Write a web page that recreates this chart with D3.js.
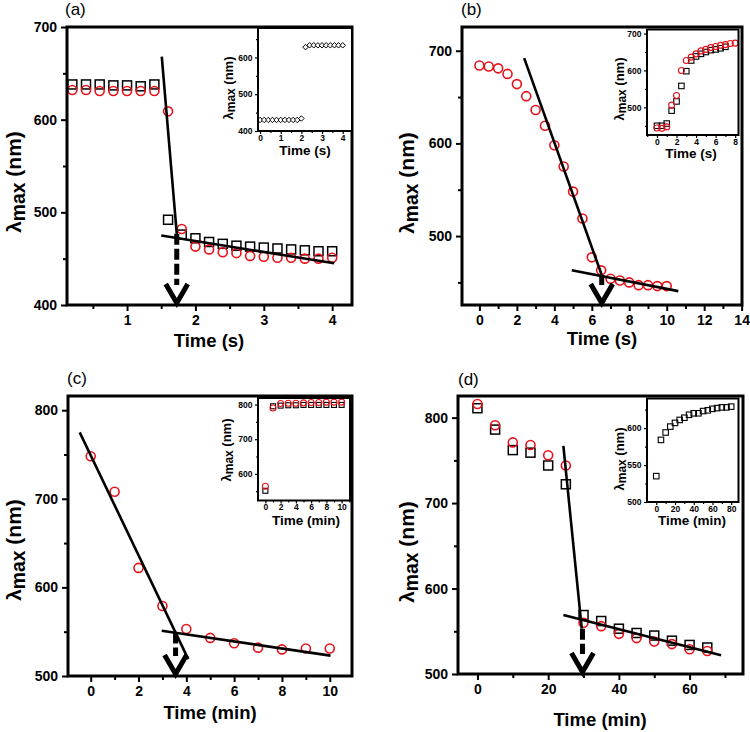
<!DOCTYPE html>
<html><head><meta charset="utf-8">
<script src="https://cdn.jsdelivr.net/npm/d3@7"></script>
<style>
body{margin:0;background:#fff}
svg{display:block}
text{font-family:"Liberation Sans",Arial,Helvetica,sans-serif}
</style>
</head><body>
<svg id="chart" width="750" height="732"></svg>
<script>
// ---------- Panel (a) ----------
const aTime = [0.2,0.4,0.6,0.8,1.0,1.2,1.4,1.6,1.8,2.0,2.2,2.4,2.6,2.8,3.0,3.2,3.4,3.6,3.8,4.0];
const aSquare = [638,638,638,637,637,636,638,492,476,472,468,466,464,463,462,461,460,459,458,458];
const aCircle = [632,632,631,631,631,631,631,609,482,463,460,457,456,453,452,451,451,450,450,451];
const aSteep = [[1.508,668],[1.727,477]];
const aShallow = [[1.50,475],[4.03,445]];
const aArrow = [1.727,477];
const aXTicks = [1,2,3,4];
const aYTicks = [400,500,600,700];
const aInsetTime = [0,0.2,0.4,0.6,0.8,1.0,1.2,1.4,1.6,1.8,2.0,2.2,2.4,2.6,2.8,3.0,3.2,3.4,3.6,3.8,4.0];
const aInsetDiamond = [430,430,430,430,430,430,430,430,430,430,434,628,633,633,633,633,633,633,633,633,633];
const aInsetXTicks = [0,1,2,3,4];
const aInsetYTicks = [400,500,600];

// ---------- Panel (b) ----------
const bTime = [0,0.5,1,1.5,2,2.5,3,3.5,4,4.5,5,5.5,6,6.5,7,7.5,8,8.5,9,9.5,10];
const bCircle = [684,683,681,675,664,651,636,619,598,575,548,519,477,463,454,452,450,447,447,446,446];
const bSteep = [[2.39,692],[6.53,458]];
const bShallow = [[4.93,463],[10.62,440.6]];
const bArrow = [6.53,458];
const bXTicks = [0,2,4,6,8,10,12,14];
const bYTicks = [500,600,700];
const bInsetCircleTime = [0,0.5,1,1.5,2,2.5,3,3.5,4,4.5,5,5.5,6,6.5,7,7.5,8];
const bInsetCircle = [444,443,447,506,532,600,627,636,645,653,657,662,665,668,670,673,674];
const bInsetSquareTime = [0,0.5,1,1.5,2,2.5,3,3.5,4,4.5,5,5.5,6,6.5,7];
const bInsetSquare = [450,450,456,491,516,558,598,627,638,645,650,655,657,660,664];
const bInsetXTicks = [0,2,4,6,8];
const bInsetYTicks = [500,600,700];

// ---------- Panel (c) ----------
const cTime = [0,1,2,3,4,5,6,7,8,9,10];
const cCircle = [748,708,622,579,553,543,537,532,530,531,531];
const cSteep = [[-0.46,775],[4.08,519]];
const cShallow = [[2.97,551],[10.03,523]];
const cArrow = [3.55,549];
const cXTicks = [0,2,4,6,8,10];
const cYTicks = [500,600,700,800];
const cInsetTime = [0,1,2,3,4,5,6,7,8,9,10];
const cInsetCircle = [564,790,803,804,804,805,806,806,807,807,807];
const cInsetSquare = [551,795,797,798,798,799,799,799,799,799,799];
const cInsetXTicks = [0,2,4,6,8,10];
const cInsetYTicks = [600,700,800];

// ---------- Panel (d) ----------
const dTime = [0,5,10,15,20,25,30,35,40,45,50,55,60,65];
const dCircle = [816,791,771,768,756,744,560,556,547,542,538,535,529,527];
const dSquare = [811,786,762,759,744,722,569,562,553,548,545,539,534,531];
const dSteep = [[24.3,767],[29.5,553]];
const dShallow = [[24.3,569],[68.9,522]];
const dArrow = [29.7,553];
const dXTicks = [0,20,40,60];
const dYTicks = [500,600,700,800];
const dInsetTime = [0,5,10,15,20,25,30,35,40,45,50,55,60,65,70,75,80];
const dInsetSquare = [535,584,594,602,607,611,614,618,620,620,623,624,626,627,628,628,629];
const dInsetXTicks = [0,20,40,60,80];
const dInsetYTicks = [500,550,600];

const RED = "#e8111a";
const svg = d3.select("#chart");

function midTicks(ticks, domain) {
  const step = ticks[1] - ticks[0];
  const out = [];
  for (let i = -1; i < ticks.length; i++) {
    const v = ticks[0] + step * (i + 0.5);
    if (v >= domain[0] && v <= domain[1]) out.push(v);
  }
  return out;
}

function makeFrame(cfg) {
  const [l, t, r, b] = cfg.frame;
  const x = d3.scaleLinear().domain(cfg.xDomain).range([l, r]);
  const y = d3.scaleLinear().domain(cfg.yDomain).range([b, t]);
  const g = svg.append("g");
  const inset = !!cfg.inset;
  const fs = inset ? 8.5 : 14;
  const maj = inset ? 3 : 6, mn = inset ? 2 : 4;
  const tw = inset ? 1.2 : 2;
  if (inset) {
    g.append("rect").attr("x", l).attr("y", t).attr("width", r - l).attr("height", b - t).attr("fill", "#fff");
  }
  const xMin = midTicks(cfg.xTicks, cfg.xDomain);
  const yMin = midTicks(cfg.yTicks, cfg.yDomain);
  const style = sel => {
    sel.select(".domain").remove();
    sel.selectAll("line").attr("stroke", "#000").attr("stroke-width", tw);
    sel.selectAll("text").attr("font-size", fs).attr("font-weight", "bold").attr("fill", "#000")
      .attr("font-family", "'Liberation Sans',Arial,sans-serif");
  };
  g.append("g").attr("transform", `translate(0,${b})`)
    .call(d3.axisBottom(x).tickValues(xMin).tickSize(mn).tickFormat("")).call(style);
  g.append("g").attr("transform", `translate(0,${b})`)
    .call(d3.axisBottom(x).tickValues(cfg.xTicks).tickSize(maj).tickPadding(inset ? 0.5 : 4).tickFormat(d3.format("d"))).call(style);
  g.append("g").attr("transform", `translate(${l},0)`)
    .call(d3.axisLeft(y).tickValues(yMin).tickSize(mn).tickFormat("")).call(style);
  g.append("g").attr("transform", `translate(${l},0)`)
    .call(d3.axisLeft(y).tickValues(cfg.yTicks).tickSize(maj).tickPadding(inset ? 2.5 : 4).tickFormat(d3.format("d"))).call(style);
  const plot = g.append("g");
  g.append("rect").attr("x", l).attr("y", t).attr("width", r - l).attr("height", b - t)
    .attr("fill", "none").attr("stroke", "#000").attr("stroke-width", inset ? 2 : 3);
  return {x, y, g: plot, inset};
}

function circles(P, xs, ys, r) {
  P.g.append("g").selectAll("circle").data(xs).join("circle")
    .attr("cx", (d) => P.x(d)).attr("cy", (d, i) => P.y(ys[i])).attr("r", r)
    .attr("fill", "none").attr("stroke", RED).attr("stroke-width", P.inset ? 1.1 : 1.6);
}
function squares(P, xs, ys, s) {
  P.g.append("g").selectAll("rect").data(xs).join("rect")
    .attr("x", (d) => P.x(d) - s / 2).attr("y", (d, i) => P.y(ys[i]) - s / 2)
    .attr("width", s).attr("height", s)
    .attr("fill", "none").attr("stroke", "#000").attr("stroke-width", P.inset ? 1.1 : 1.5);
}
function diamonds(P, xs, ys, s) {
  P.g.append("g").selectAll("path").data(xs).join("path")
    .attr("d", (d, i) => { const cx = P.x(d), cy = P.y(ys[i]);
      return `M${cx - s / 2},${cy}L${cx},${cy - s / 2}L${cx + s / 2},${cy}L${cx},${cy + s / 2}Z`; })
    .attr("fill", "#fff").attr("stroke", "#000").attr("stroke-width", 1);
}
function fitLine(P, pts) {
  P.g.append("path").attr("d", d3.line().x(d => P.x(d[0])).y(d => P.y(d[1]))(pts))
    .attr("fill", "none").attr("stroke", "#000").attr("stroke-width", 2.6);
}
function arrow(P, a, yBottom, dashed) {
  const ax = P.x(a[0]), top = P.y(a[1]), tip = P.y(yBottom);
  P.g.append("line").attr("x1", ax).attr("x2", ax).attr("y1", top).attr("y2", tip - 20)
    .attr("stroke", "#000").attr("stroke-width", 5).attr("stroke-dasharray", dashed ? "11,4" : null);
  P.g.append("path").attr("d", `M${ax - 11},${tip - 21}L${ax},${tip - 2}L${ax + 11},${tip - 21}`)
    .attr("fill", "none").attr("stroke", "#000").attr("stroke-width", 5).attr("stroke-linejoin", "miter");
}
function yTitle(xb, yc, size) {
  const t = svg.append("text").attr("transform", `translate(${xb},${yc}) rotate(-90)`)
    .attr("text-anchor", "middle").attr("font-weight", "bold").attr("font-size", size).attr("fill", "#000");
  t.append("tspan").text("λ");
  t.append("tspan").attr("dy", size * 0.18).attr("font-size", size * 0.92).text("max");
  t.append("tspan").attr("dy", -size * 0.18).text(" (nm)");
}
function xTitle(xc, yb, size, label) {
  svg.append("text").attr("x", xc).attr("y", yb).attr("text-anchor", "middle")
    .attr("font-weight", "bold").attr("font-size", size).attr("fill", "#000").text(label);
}
function panelLabel(x, y, label) {
  svg.append("text").attr("x", x).attr("y", y).attr("font-size", 17).attr("fill", "#000").text(label);
}

// ===== Panel (a) =====
{
  const P = makeFrame({frame: [67, 27, 352, 305], xDomain: [0.122, 4.29], yDomain: [400, 700], xTicks: aXTicks, yTicks: aYTicks});
  squares(P, aTime, aSquare, 9);
  circles(P, aTime, aCircle, 4.5);
  fitLine(P, aSteep); fitLine(P, aShallow);
  arrow(P, aArrow, 400, true);
  const I = makeFrame({frame: [258, 28, 352, 131], xDomain: [-0.1, 4.45], yDomain: [400, 680], xTicks: aInsetXTicks, yTicks: aInsetYTicks, inset: true});
  diamonds(I, aInsetTime, aInsetDiamond, 5.5);
  yTitle(21, 182, 21); xTitle(209, 347, 18.5, "Time (s)");
  yTitle(233, 88, 13); xTitle(305, 155, 13.5, "Time (s)");
  panelLabel(65, 15, "(a)");
}
// ===== Panel (b) =====
{
  const P = makeFrame({frame: [462, 27, 742, 305], xDomain: [-0.93, 14.02], yDomain: [425.6, 725.6], xTicks: bXTicks, yTicks: bYTicks});
  circles(P, bTime, bCircle, 4.5);
  fitLine(P, bSteep); fitLine(P, bShallow);
  arrow(P, bArrow, 425.6, false);
  const I = makeFrame({frame: [647, 29.5, 738.5, 135], xDomain: [-1.02, 8.34], yDomain: [425, 711], xTicks: bInsetXTicks, yTicks: bInsetYTicks, inset: true});
  squares(I, bInsetSquareTime, bInsetSquare, 5.5);
  circles(I, bInsetCircleTime, bInsetCircle, 3);
  yTitle(414, 183, 21); xTitle(602, 345, 18.5, "Time (s)");
  yTitle(624, 89, 13); xTitle(691, 158, 13.5, "Time (s)");
  panelLabel(461, 15, "(b)");
}
// ===== Panel (c) =====
{
  const P = makeFrame({frame: [68, 396, 352, 676], xDomain: [-0.95, 10.93], yDomain: [500, 816], xTicks: cXTicks, yTicks: cYTicks});
  circles(P, cTime, cCircle, 4.5);
  fitLine(P, cSteep); fitLine(P, cShallow);
  arrow(P, cArrow, 500, true);
  const I = makeFrame({frame: [258, 398, 350, 500.5], xDomain: [-0.97, 11.1], yDomain: [523, 819], xTicks: cInsetXTicks, yTicks: cInsetYTicks, inset: true});
  squares(I, cInsetTime, cInsetSquare, 5);
  circles(I, cInsetTime, cInsetCircle, 3);
  yTitle(21, 550, 21); xTitle(210, 719, 18.5, "Time (min)");
  yTitle(231, 450, 13); xTitle(306, 525, 13.5, "Time (min)");
  panelLabel(67, 384, "(c)");
}
// ===== Panel (d) =====
{
  const P = makeFrame({frame: [458, 396, 743, 674], xDomain: [-5.5, 75.1], yDomain: [500, 825.3], xTicks: dXTicks, yTicks: dYTicks});
  squares(P, dTime, dSquare, 9);
  circles(P, dTime, dCircle, 4.5);
  fitLine(P, dSteep); fitLine(P, dShallow);
  arrow(P, dArrow, 500, true);
  const I = makeFrame({frame: [647, 398.5, 738.5, 502], xDomain: [-9.9, 87.8], yDomain: [500, 640], xTicks: dInsetXTicks, yTicks: dInsetYTicks, inset: true});
  squares(I, dInsetTime, dInsetSquare, 5.5);
  yTitle(414, 552, 21); xTitle(600, 726, 18.5, "Time (min)");
  yTitle(624, 459, 13); xTitle(692, 525, 13.5, "Time (min)");
  panelLabel(458, 385, "(d)");
}
</script>
</body></html>
